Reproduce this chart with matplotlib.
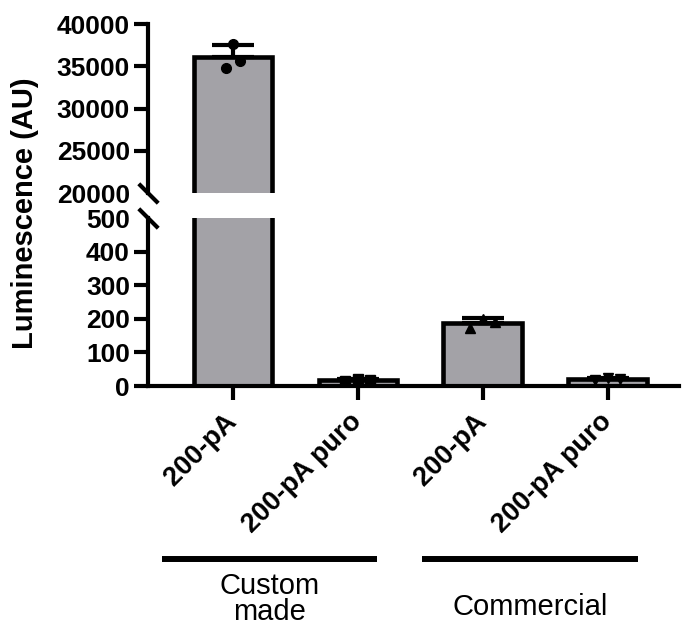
import numpy as np
import matplotlib
matplotlib.use("Agg")
import matplotlib.pyplot as plt
from matplotlib.transforms import blended_transform_factory, ScaledTranslation

plt.rcParams['font.family'] = ['Liberation Sans', 'DejaVu Sans']

# replicate luminescence readings (AU) per sample
categories = ["200-pA", "200-pA puro", "200-pA", "200-pA puro"]
replicates = [
    [34850, 37650, 35650],
    [14, 20, 18],
    [172, 200, 190],
    [17, 23, 21],
]
markers = ["o", "s", "^", "v"]
groups = ["Custom\nmade", "Commercial"]

top_ticks = [20000, 25000, 30000, 35000, 40000]
low_ticks = [0, 100, 200, 300, 400, 500]

means = [np.mean(r) for r in replicates]
sds = [np.std(r, ddof=1) for r in replicates]
x = np.arange(len(categories))

bar_color = "#a3a2a7"
lw = 3

fig = plt.figure(figsize=(6.86, 6.32), dpi=100)
ax_top = fig.add_axes([148/686, 1-193/632, 531/686, 169/632])
ax_low = fig.add_axes([148/686, 1-386/632, 531/686, 168/632])

for ax in (ax_top, ax_low):
    ax.bar(x, means, width=0.63, color=bar_color, edgecolor="black", linewidth=3.3, zorder=2)
    ax.errorbar(x, means, yerr=[np.zeros(len(sds)), sds], fmt="none", ecolor="black",
                elinewidth=lw, capsize=15, capthick=lw, zorder=3)
    for i, vals in enumerate(replicates):
        offs = np.array([-1, 0, 1]) * (0.056 if i == 0 else 0.1)
        ax.plot(x[i] + offs, vals, linestyle="none", marker=markers[i], markersize=7,
                color="black", zorder=4, clip_on=True)
    ax.set_xlim(-0.68, 3.57)
    for s in ("top", "right"):
        ax.spines[s].set_visible(False)
    ax.spines["left"].set_linewidth(lw)
    ax.spines["bottom"].set_linewidth(lw)
    ax.tick_params(axis="both", width=lw, length=10, pad=3, labelsize=19)

# upper segment
ax_top.set_ylim(20000, 40000)
ax_top.set_yticks(top_ticks)
ax_top.set_yticklabels([str(t) for t in top_ticks], fontweight="bold", fontsize=19)
ax_top.spines["bottom"].set_visible(False)
ax_top.set_xticks([])
ax_top.yaxis.get_major_ticks()[0].tick1line.set_visible(False)

# lower segment
ax_low.set_ylim(0, 500)
ax_low.set_yticks(low_ticks)
ax_low.set_yticklabels([str(t) for t in low_ticks], fontweight="bold", fontsize=19)
ax_low.yaxis.get_major_ticks()[-1].tick1line.set_visible(False)
ax_low.set_xticks(x)
ax_low.set_xticklabels(categories, rotation=45, ha="right", fontweight="bold", fontsize=19.5)
ax_low.tick_params(axis="x", pad=6)
for lab in ax_low.get_xticklabels():
    lab.set_transform(lab.get_transform() + ScaledTranslation(9/100, 0, fig.dpi_scale_trans))

# break marks on the y axis
brk = dict(marker=[(-1, 1), (1, -1)], markersize=14, markeredgewidth=lw,
           color="black", linestyle="none", clip_on=False, zorder=5)
ax_top.plot([0], [0], transform=ax_top.transAxes, **brk)
ax_low.plot([0], [1], transform=ax_low.transAxes, **brk)

fig.text(25/686, 1-213/632, "Luminescence (AU)", rotation=90, ha="center", va="center",
         fontsize=21, fontweight="bold")

# group brackets below the axis
tr = blended_transform_factory(ax_low.transData, fig.transFigure)
ax_low.plot([-0.568, 1.152], [1-559/632]*2, color="black", linewidth=4.3,
            transform=tr, clip_on=False, solid_capstyle="butt")
ax_low.plot([1.512, 3.24], [1-559/632]*2, color="black", linewidth=4.3,
            transform=tr, clip_on=False, solid_capstyle="butt")
ax_low.text(0.296, 1-599/632, groups[0], transform=tr, ha="center", va="center",
            fontsize=21, linespacing=0.95)
ax_low.text(2.376, 1-607/632, groups[1], transform=tr, ha="center", va="center",
            fontsize=21)

fig.savefig("out.png", dpi=100)
